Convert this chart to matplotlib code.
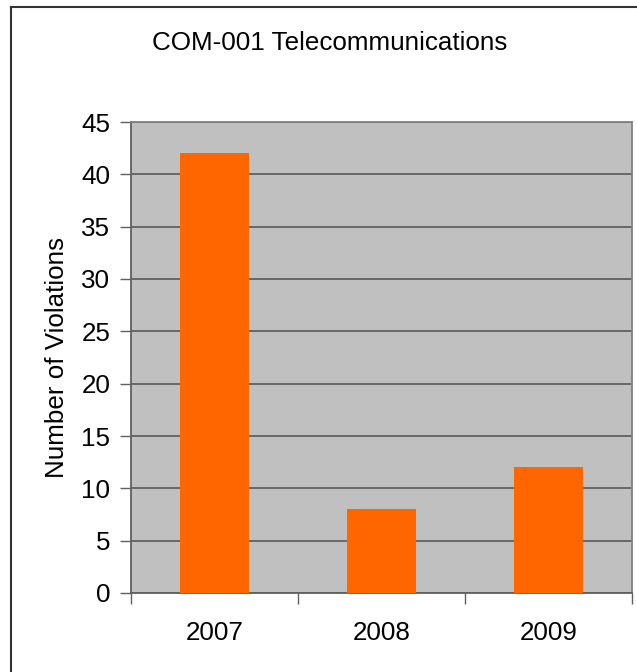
import matplotlib.pyplot as plt
from matplotlib.lines import Line2D

# data
years = ['2007', '2008', '2009']
violations = [42, 8, 12]
y_ticks = [0, 5, 10, 15, 20, 25, 30, 35, 40, 45]

plt.rcParams['font.family'] = ['Liberation Sans', 'DejaVu Sans']
fs = 18.7

fig = plt.figure(figsize=(6.37, 6.72), dpi=100)
ax = fig.add_axes([131/637, 1 - 593/672, 501/637, 471/672])

ax.set_facecolor('#C0C0C0')
x = range(len(years))
ax.bar(x, violations, width=0.41, color='#FF6600', zorder=3)

ax.set_xlim(-0.5, len(years) - 0.5)
ax.set_ylim(0, 45)
ax.set_yticks(y_ticks)
ax.set_yticklabels([str(t) for t in y_ticks], fontsize=fs)
ax.yaxis.grid(True, color='#606060', linewidth=1.3, zorder=1)
ax.set_axisbelow(True)

# category labels centred, tick marks between categories
ax.set_xticks(list(x))
ax.set_xticklabels(years, fontsize=fs)
ax.tick_params(axis='x', length=0, pad=20)
ax.set_xticks([-0.5, 0.5, 1.5, 2.5], minor=True)
ax.tick_params(axis='x', which='minor', length=8, width=1, color='#606060')
ax.tick_params(axis='y', length=8, width=1, color='#606060', pad=7)

for side in ['top', 'right']:
    ax.spines[side].set_color('#808080')
    ax.spines[side].set_linewidth(1.3)
for side in ['left', 'bottom']:
    ax.spines[side].set_color('#606060')
    ax.spines[side].set_linewidth(1.3)

ax.set_ylabel('Number of Violations', fontsize=fs, labelpad=9)

fig.text(330/637, 1 - 43/672, 'COM-001 Telecommunications', fontsize=fs,
         ha='center', va='center')

# outer chart border (only left and top show in the crop)
fig.add_artist(Line2D([11/637, 11/637], [0, 1 - 7/672], transform=fig.transFigure,
                      color='#333333', linewidth=1.5))
fig.add_artist(Line2D([11/637, 1], [1 - 7/672, 1 - 7/672], transform=fig.transFigure,
                      color='#333333', linewidth=1.5))

fig.savefig('out.png', dpi=100)
